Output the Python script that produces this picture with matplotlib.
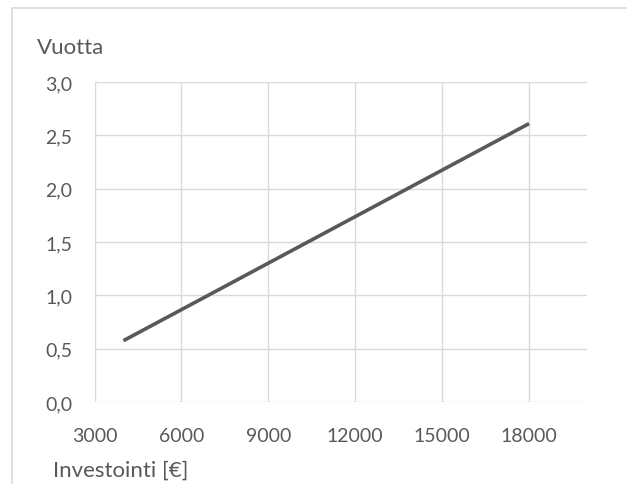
import matplotlib
matplotlib.use("Agg")
import matplotlib.pyplot as plt
from matplotlib.patches import Rectangle

# investment (EUR) vs. years
investointi = [4000, 18000]
vuotta = [0.575, 2.61]
x_ticks = [3000, 6000, 9000, 12000, 15000, 18000]
y_ticks = [0.0, 0.5, 1.0, 1.5, 2.0, 2.5, 3.0]

plt.rcParams['font.family'] = ['Lato', 'DejaVu Sans']
grey_txt = '#595959'
grid_c = '#d9d9d9'

fig = plt.figure(figsize=(6.27, 4.85), dpi=100)
W, H = 627, 485

# chart area frame (runs off the right and bottom edges)
fig.patches.append(Rectangle((12 / W, -0.1), 1.0, 1 - 9 / H + 0.1, transform=fig.transFigure,
                             fill=False, edgecolor=grid_c, linewidth=1.2))

ax = fig.add_axes([94.5 / W, 1 - 403 / H, (587 - 94.5) / W, (403 - 83) / H])
ax.plot(investointi, vuotta, color=grey_txt, linewidth=2.6, solid_capstyle='butt')

ax.set_xlim(3000, 20000)
ax.set_ylim(0, 3.0)
ax.set_xticks(x_ticks)
ax.set_yticks(y_ticks)
ax.set_yticklabels([('%.1f' % v).replace('.', ',') for v in y_ticks])
ax.grid(True, color=grid_c, linewidth=1.0)
ax.set_axisbelow(True)
for s in ax.spines.values():
    s.set_visible(False)
ax.tick_params(length=0, labelsize=14, labelcolor=grey_txt)
ax.tick_params(axis='y', pad=16)
ax.tick_params(axis='x', pad=18)

fig.text(37 / W, 1 - 54 / H, 'Vuotta', fontsize=16, color=grey_txt, va='baseline', ha='left')
fig.text(53 / W, 1 - 477 / H, 'Investointi [€]', fontsize=16, color=grey_txt, va='baseline', ha='left')

fig.savefig('out.png', dpi=100)
